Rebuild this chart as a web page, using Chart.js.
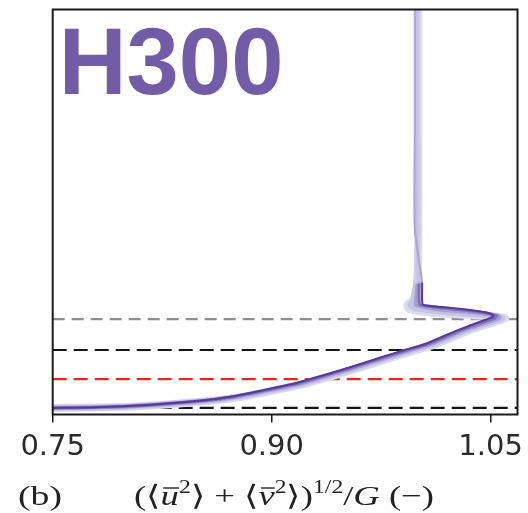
<!DOCTYPE html>
<html>
<head>
<meta charset="utf-8">
<script src="https://cdn.jsdelivr.net/npm/chart.js@4.4.1/dist/chart.umd.min.js"></script>
<style>
  html, body { margin: 0; padding: 0; background: #fff; }
  #wrap { width: 528px; height: 513px; }
</style>
</head>
<body>
<div id="wrap"><canvas id="c" width="528" height="513"></canvas></div>
<script>
// Heights (m) shared by every profile
const heights = [0, 2, 10, 23, 37, 60, 83, 97, 133, 167, 193, 213, 260, 293, 300, 307, 317, 330, 343, 360, 420, 600, 900, 1328];

// Normalised horizontal wind speed profiles, lightest to darkest run
const profile1 = [0.750, 0.788, 0.823, 0.857, 0.880, 0.903, 0.925, 0.935, 0.960, 0.982, 0.999, 1.013, 1.036, 1.057, 1.060, 1.045, 1.010, 0.994, 0.993, 0.997, 1.000, 1.0005, 1.0005, 1.0005];
const profile2 = [0.750, 0.786, 0.821, 0.855, 0.878, 0.901, 0.923, 0.933, 0.958, 0.980, 0.997, 1.011, 1.034, 1.055, 1.058, 1.050, 1.025, 1.000, 0.995, 0.997, 0.999, 1.000, 1.000, 1.000];
const profile3 = [0.750, 0.784, 0.819, 0.853, 0.876, 0.899, 0.921, 0.931, 0.956, 0.978, 0.995, 1.009, 1.032, 1.052, 1.056, 1.055, 1.040, 1.012, 0.999, 0.999, 1.000, 1.000, 1.000, 1.000];
const profile4 = [0.750, 0.782, 0.817, 0.851, 0.874, 0.897, 0.919, 0.929, 0.954, 0.976, 0.993, 1.007, 1.030, 1.049, 1.053, 1.054, 1.046, 1.024, 1.002, 1.001, 1.001, 0.999, 0.999, 0.999];
const profile5 = [0.750, 0.780, 0.815, 0.849, 0.872, 0.895, 0.917, 0.927, 0.952, 0.974, 0.991, 1.005, 1.028, 1.046, 1.050, 1.052, 1.048, 1.030, 1.004, 1.003, 1.003, 0.998, 0.998, 0.998];

// Reference heights drawn as dashed lines (bottom to top)
const refHeights = [0, 96, 193, 296];

// Axis ticks
const tickValues = [0.75, 0.90, 1.05];
const tickLabels = ['0.75', '0.90', '1.05'];

const panelTitle = 'H300';

const X_MIN = 0.75, X_MAX = 1.0684, Y_MIN = -22, Y_MAX = 1328;
const UPPER_FADE = 420; // above this height the darker runs are drawn faded

const profiles = [profile1, profile2, profile3, profile4, profile5];
const profileStyle = [
  { color: '#dcdcef', upper: '#dcdcef', width: 8 },
  { color: '#c6c4e3', upper: '#d2d1ea', width: 6 },
  { color: '#a39ecf', upper: '#cccae6', width: 4 },
  { color: '#7f6fb9', upper: '#c4c1e2', width: 3 },
  { color: '#57399b', upper: '#aaa5d4', width: 2 }
];
const refStyle = [
  { color: '#151515', dash: [14, 7] },
  { color: '#e8261f', dash: [14, 7] },
  { color: '#151515', dash: [14, 7] },
  { color: '#8e8e8e', dash: [12, 7] }
];

const datasets = [];
profiles.forEach((xs, i) => {
  const st = profileStyle[i];
  datasets.push({
    data: heights.map((h, k) => ({ x: xs[k], y: h })),
    borderColor: st.color,
    borderWidth: st.width,
    borderCapStyle: 'round',
    borderJoinStyle: 'round',
    pointRadius: 0,
    showLine: true,
    tension: 0.2,
    segment: { borderColor: c => (c.p0.parsed.y >= UPPER_FADE ? st.upper : undefined) },
    order: profiles.length - i
  });
});
refHeights.forEach((h, i) => {
  datasets.push({
    data: [{ x: X_MIN, y: h }, { x: X_MAX, y: h }],
    borderColor: refStyle[i].color,
    borderWidth: 2.2,
    borderDash: refStyle[i].dash,
    pointRadius: 0,
    showLine: true,
    order: 20
  });
});

// Frame, panel title and axis caption
const decorations = {
  id: 'decorations',
  afterDatasetsDraw(chart) {
    const { ctx, chartArea: a } = chart;
    ctx.save();
    ctx.strokeStyle = '#1a1a1a';
    ctx.lineWidth = 2;
    ctx.strokeRect(a.left, a.top, a.right - a.left, a.bottom - a.top);
    ctx.fillStyle = '#725ca8';
    ctx.font = 'bold 94px "Liberation Sans", Arial, sans-serif';
    ctx.textBaseline = 'alphabetic';
    ctx.textAlign = 'left';
    ctx.fillText(panelTitle, a.left + 6, 94);
    ctx.restore();
  },
  afterDraw(chart) {
    const ctx = chart.ctx;
    const base = 505;
    const R = '28px "Liberation Serif", serif';
    const I = 'italic 28px "Liberation Serif", serif';
    const S = '18px "Liberation Serif", serif';
    ctx.save();
    ctx.fillStyle = '#222';
    ctx.strokeStyle = '#222';
    ctx.textBaseline = 'alphabetic';
    ctx.textAlign = 'left';

    // panel letter
    ctx.font = R;
    const wb = ctx.measureText('(b)').width;
    ctx.save();
    ctx.translate(18, 0);
    ctx.scale(44 / wb, 1);
    ctx.fillText('(b)', 0, base);
    ctx.restore();

    // quantity label
    const parts = [
      ['(', R, 0], ['\u27E8', R, 0], ['u', I, 0, true], ['2', S, -12], ['\u27E9', R, 0],
      [' + ', R, 0],
      ['\u27E8', R, 0], ['v', I, 0, true], ['2', S, -12], ['\u27E9', R, 0], [')', R, 0],
      ['1/2', S, -12], ['/', R, 0], ['G', I, 0], [' (\u2212)', R, 0]
    ];
    let total = 0;
    const widths = parts.map(p => { ctx.font = p[1]; const w = ctx.measureText(p[0]).width; total += w; return w; });
    const sx = 300 / total;
    ctx.translate(134, 0);
    ctx.scale(sx, 1);
    let x = 0;
    parts.forEach((p, i) => {
      ctx.font = p[1];
      ctx.fillText(p[0], x, base + p[2]);
      if (p[3]) {
        ctx.lineWidth = 1.4;
        ctx.beginPath();
        ctx.moveTo(x + 2, base - 17);
        ctx.lineTo(x + widths[i], base - 17);
        ctx.stroke();
      }
      x += widths[i];
    });
    ctx.restore();
  }
};

new Chart(document.getElementById('c'), {
  type: 'scatter',
  data: { datasets },
  options: {
    responsive: false,
    animation: false,
    layout: { padding: { left: 0, right: 10.5, top: 9.5, bottom: 0 } },
    plugins: { legend: { display: false }, tooltip: { enabled: false }, title: { display: false } },
    scales: {
      x: {
        type: 'linear',
        min: X_MIN,
        max: X_MAX,
        afterBuildTicks: s => { s.ticks = tickValues.map(v => ({ value: v })); },
        afterFit: s => { s.height = 98.5; s.paddingLeft = 0; s.paddingRight = 0; },
        ticks: {
          callback: (v, i) => tickLabels[i],
          font: { family: '"DejaVu Sans", sans-serif', size: 29 },
          color: '#2a2a2a',
          padding: 8,
          maxRotation: 0,
          autoSkip: false
        },
        grid: { drawOnChartArea: false, drawTicks: true, tickLength: 8, color: '#1a1a1a', lineWidth: 1.5 },
        border: { display: false }
      },
      y: {
        type: 'linear',
        min: Y_MIN,
        max: Y_MAX,
        afterFit: s => { s.width = 52.7; s.paddingTop = 0; s.paddingBottom = 0; },
        ticks: { display: false },
        grid: { display: false },
        border: { display: false }
      }
    }
  },
  plugins: [decorations]
});
</script>
</body>
</html>
